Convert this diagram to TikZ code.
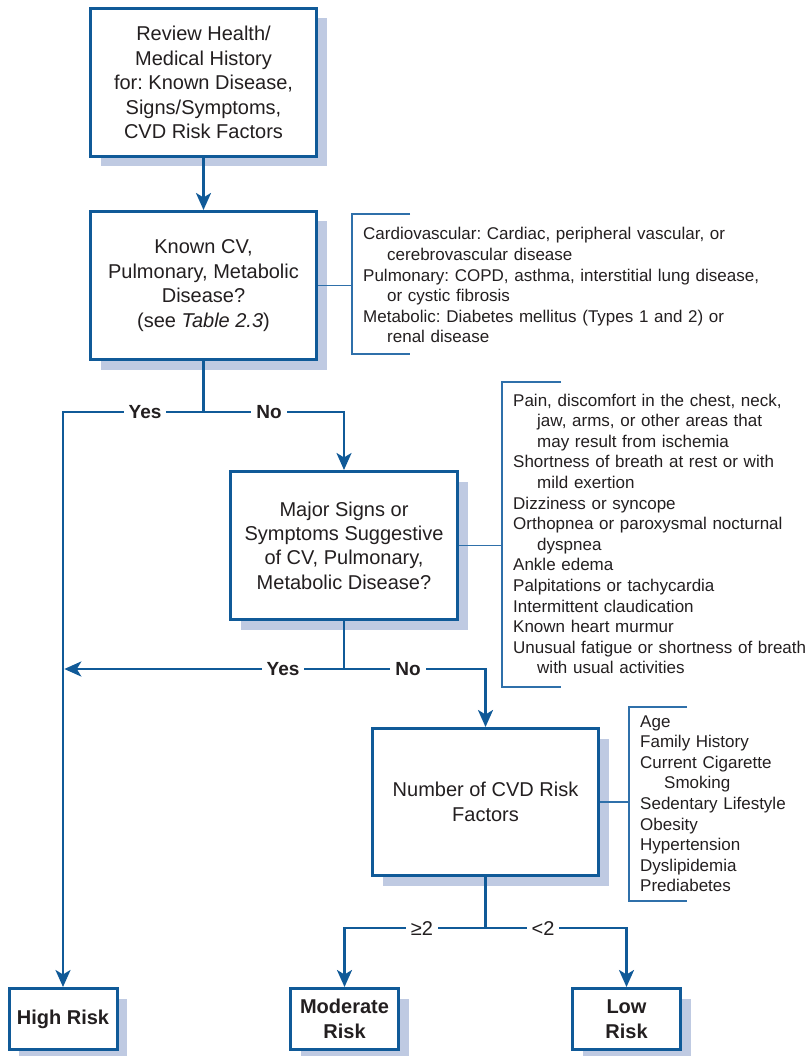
\documentclass[tikz,border=0pt]{standalone}
\usepackage{fontspec}
\setmainfont{Liberation Sans}
\usetikzlibrary{arrows.meta,shadows}
\definecolor{flowblue}{HTML}{105A98}
\definecolor{shadowblue}{HTML}{BFCAE2}
\definecolor{brkblue}{HTML}{2F70AA}
\definecolor{ink}{HTML}{231F20}
\newcommand{\hang}{\hspace*{24pt}}
\frenchspacing
\begin{document}
\begin{tikzpicture}[x=1pt,y=-1pt,
  mainbox/.style={draw=flowblue, line width=3pt, fill=white, minimum width=226pt,
    minimum height=148pt, inner sep=0pt, align=center, text=ink,
    font=\frenchspacing\fontsize{20}{24.4}\selectfont,
    drop shadow={shadow xshift=10pt, shadow yshift=-10pt, fill=shadowblue, opacity=1}},
  riskbox/.style={mainbox, minimum width=108pt, minimum height=61pt,
    font=\bfseries\fontsize{20}{25}\selectfont},
  conn/.style={draw=flowblue, line width=2.6pt},
  arr/.style={conn, -{Stealth[length=17pt,width=15pt,inset=4.5pt]}},
  lbl/.style={fill=white, inner ysep=2pt, inner xsep=5pt, text height=13.6pt, text depth=0pt,
    text=ink, font=\bfseries\fontsize{19}{22}\selectfont},
  cmp/.style={lbl, text height=14.3pt, font=\fontsize{20}{22}\selectfont},
  brk/.style={draw=brkblue, line width=1.4pt},
  listtext/.style={anchor=base west, inner sep=0pt, align=left, text=ink,
    font=\frenchspacing\fontsize{17}{20.6}\selectfont},
]
\useasboundingbox[fill=white] (0,0) rectangle (810,1056);

% boxes
\node[mainbox] (rev) at (203.5,82.5) {Review Health/\\Medical History\\for: Known Disease,\\Signs/Symptoms,\\CVD Risk Factors};
\node[mainbox] (known) at (203.5,285.5) {Known CV,\\Pulmonary, Metabolic\\Disease?\\(see \textit{Table 2.3})};
\node[mainbox, minimum width=227pt] (major) at (344,545.5) {Major Signs or\\Symptoms Suggestive\\of CV, Pulmonary,\\Metabolic Disease?};
\node[mainbox, minimum height=147pt] (num) at (485.5,802) {Number of CVD Risk\\Factors};
\node[riskbox] (high) at (63,1019) {High Risk};
\node[riskbox] (mod) at (344.5,1019) {Moderate\\Risk};
\node[riskbox] (low) at (626.5,1019) {Low\\Risk};

% flow
\draw[arr] (rev.south) -- (known.north);

\coordinate (s1) at (203.5,412);
\draw[conn] (known.south) -- (s1);
\draw[arr] (s1) -| (high.north);
\draw[arr] (s1) -| (major.north);
\node[lbl] (yes1) at (145,412) {Yes};
\node[lbl] (no1) at (269,412) {No};

\coordinate (s2) at (344,669);
\coordinate (j2) at (64.3,669);
\draw[conn] (major.south) -- (s2);
\draw[arr] (s2) -- (j2);
\draw[arr] (s2) -| (num.north);
\node[lbl] (yes2) at (283,669) {Yes};
\node[lbl] (no2) at (408,669) {No};

\coordinate (s3) at (485.5,928);
\draw[conn] (num.south) -- (s3);
\draw[arr] (s3) -| (mod.north);
\draw[arr] (s3) -| (low.north);
\node[cmp] (ge) at (422,928) {≥2};
\node[cmp] (lt) at (543,928) {<2};

% bracket 1
\coordinate (k1) at (352,285.5);
\draw[brk] (410,214) -- (352,214) -- (352,354) -- (410,354);
\draw[brk] (known.east) -- (k1);
\node[listtext, text width=445pt] (list1) at (363,240) {Cardiovascular: Cardiac, peripheral vascular, or\\
\hang cerebrovascular disease\\
Pulmonary: COPD, asthma, interstitial lung disease,\\
\hang or cystic fibrosis\\
Metabolic: Diabetes mellitus (Types 1 and 2) or\\
\hang renal disease};

% bracket 2
\coordinate (k2) at (502,545.5);
\draw[brk] (561,382) -- (502,382) -- (502,687) -- (561,687);
\draw[brk] (major.east) -- (k2);
\node[listtext, text width=300pt] (list2) at (513,406) {Pain, discomfort in the chest, neck,\\
\hang jaw, arms, or other areas that\\
\hang may result from ischemia\\
Shortness of breath at rest or with\\
\hang mild exertion\\
Dizziness or syncope\\
Orthopnea or paroxysmal nocturnal\\
\hang dyspnea\\
Ankle edema\\
Palpitations or tachycardia\\
Intermittent claudication\\
Known heart murmur\\
Unusual fatigue or shortness of breath\\
\hang with usual activities};

% bracket 3
\coordinate (k3) at (629,802);
\draw[brk] (687,707) -- (629,707) -- (629,901) -- (687,901);
\draw[brk] (num.east) -- (k3);
\node[listtext, text width=200pt] (list3) at (640,727) {Age\\
Family History\\
Current Cigarette\\
\hang Smoking\\
Sedentary Lifestyle\\
Obesity\\
Hypertension\\
Dyslipidemia\\
Prediabetes};
\end{tikzpicture}
\end{document}
